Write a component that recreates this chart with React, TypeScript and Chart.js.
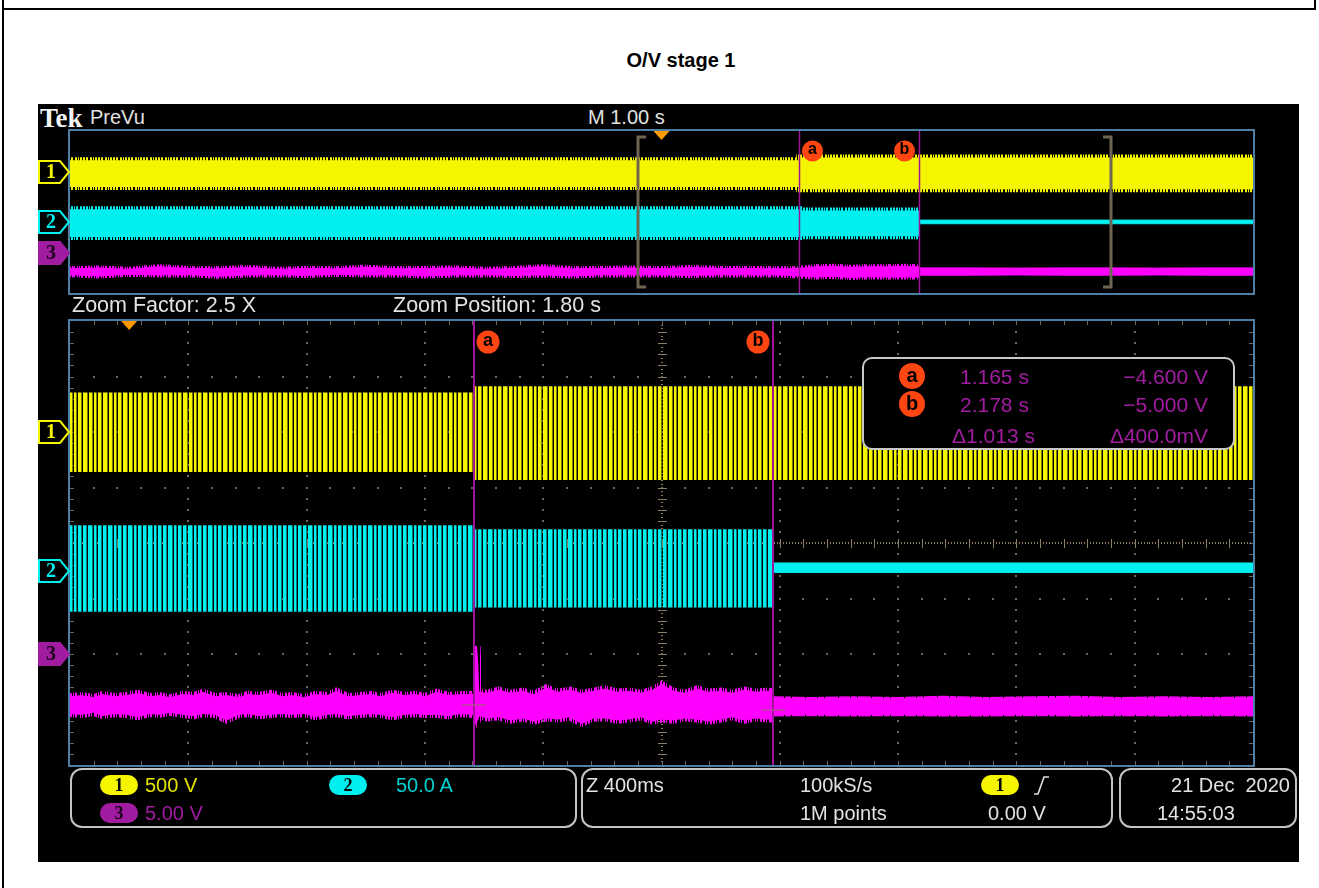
import React, { useEffect, useRef } from "react";
import { Chart, registerables } from "chart.js";

Chart.register(...registerables);

// ---------- time base ----------
const overviewWindow = [-5, 5]; // M 1.00 s/div, 10 divisions
const zoomWindow = [-0.2, 3.8]; // Z 400 ms/div, centred on 1.80 s
const triggerTime = 0;

// ---------- cursors (measured on channel 3) ----------
const cursorNames = ["a", "b"];
const cursorTimes = [1.165, 2.178];
const cursorLevels = [-4.6, -5.0];

// ---------- vertical set-up ----------
const channelNames = ["1", "2", "3"];
const channelPerDiv = [500, 50, 5];
const channelPosition = [2, -0.5, -2];
const channelScaleText = ["500 V", "50.0 A", "5.00 V"];

// ---------- channel 1 (V) ----------
const ch1ZoomTime = [-0.2, 1.165, 1.165, 3.8];
const ch1ZoomMax = [355, 355, 412, 412];
const ch1ZoomMin = [-360, -360, -432, -432];

const ch1OverTime = [-5, 1.165, 1.165, 5];
const ch1OverMax = [280, 280, 345, 345];
const ch1OverMin = [-385, -385, -440, -440];

// ---------- channel 2 (A) ----------
const ch2ZoomRunTime = [-0.2, 1.165, 1.165, 2.178];
const ch2ZoomRunMax = [41, 41, 37.5, 37.5];
const ch2ZoomRunMin = [-37, -37, -33, -33];
const ch2ZoomOffTime = [2.178, 3.8];
const ch2ZoomOffMax = [7, 7];
const ch2ZoomOffMin = [-1.5, -1.5];

const ch2OverRunTime = [-5, 1.165, 1.165, 2.178];
const ch2OverRunMax = [32, 32, 29, 29];
const ch2OverRunMin = [-37, -37, -35, -35];
const ch2OverOffTime = [2.178, 5];
const ch2OverOffMax = [5, 5];
const ch2OverOffMin = [-4, -4];

// ---------- channel 3 (V) ----------
const ch3ZoomRunTime = [
  -0.2, -0.16, -0.12, -0.09, -0.05, -0.01, 0.03, 0.07, 0.1, 0.14,
  0.18, 0.22, 0.25, 0.29, 0.33, 0.37, 0.4, 0.44, 0.48, 0.52,
  0.55, 0.59, 0.63, 0.67, 0.7, 0.74, 0.78, 0.82, 0.85, 0.89,
  0.93, 0.97, 1.0, 1.04, 1.08, 1.12, 1.16, 1.172, 1.178, 1.184,
  1.21, 1.25, 1.29, 1.33, 1.37, 1.41, 1.45, 1.49, 1.53, 1.57,
  1.61, 1.65, 1.69, 1.73, 1.77, 1.8, 1.84, 1.88, 1.92, 1.96,
  2.0, 2.04, 2.08, 2.12, 2.16, 2.178,
];
const ch3ZoomRunMax = [
  -3.8, -3.7, -3.9, -3.6, -3.8, -3.7, -3.5, -3.8, -3.7, -3.9,
  -3.6, -3.7, -3.4, -3.8, -3.7, -3.9, -3.6, -3.7, -3.5, -3.8,
  -3.7, -3.9, -3.6, -3.7, -3.3, -3.8, -3.7, -3.6, -3.8, -3.5,
  -3.7, -3.6, -3.8, -3.4, -3.7, -3.6, -3.6, -3.5, 0.7, -3.4,
  -3.5, -3.2, -3.5, -3.3, -3.6, -3.0, -3.4, -3.2, -3.5, -3.3,
  -3.1, -3.4, -3.3, -3.5, -3.2, -2.7, -3.3, -3.5, -3.1, -3.4,
  -3.3, -3.5, -3.2, -3.4, -3.3, -3.4,
];
const ch3ZoomRunMin = [
  -5.4, -5.5, -5.3, -5.6, -5.4, -5.5, -5.7, -5.4, -5.5, -5.3,
  -5.5, -5.6, -5.4, -5.5, -6.0, -5.5, -5.4, -5.6, -5.5, -5.4,
  -5.5, -5.4, -5.7, -5.5, -5.4, -5.6, -5.5, -5.4, -5.5, -5.7,
  -5.5, -5.4, -5.5, -5.5, -5.6, -5.4, -5.5, -5.7, -6.1, -5.6,
  -5.8, -5.7, -6.0, -5.8, -6.1, -5.8, -5.9, -5.7, -6.3, -5.8,
  -5.8, -6.0, -5.9, -5.7, -6.1, -5.9, -6.0, -5.8, -5.9, -6.1,
  -5.9, -5.7, -6.0, -5.8, -5.9, -5.9,
];
const ch3ZoomOffTime = [2.178, 2.3, 2.45, 2.6, 2.75, 2.9, 3.05, 3.2, 3.35, 3.5, 3.65, 3.8];
const ch3ZoomOffMax = [-3.95, -4.0, -3.95, -4.0, -3.9, -4.0, -3.95, -3.9, -4.0, -3.95, -4.0, -3.95];
const ch3ZoomOffMin = [-5.5, -5.45, -5.5, -5.45, -5.5, -5.5, -5.45, -5.5, -5.45, -5.5, -5.45, -5.5];

const ch3OverRunTime = [
  -5.0, -4.75, -4.5, -4.25, -4.0, -3.75, -3.5, -3.25, -3.0, -2.75,
  -2.5, -2.25, -2.0, -1.75, -1.5, -1.25, -1.0, -0.75, -0.5, -0.25,
  0.0, 0.25, 0.5, 0.75, 1.0, 1.165, 1.3, 1.45, 1.6, 1.75,
  1.9, 2.05, 2.178,
];
const ch3OverRunMax = [
  -3.9, -3.7, -4.0, -3.4, -3.8, -3.9, -3.6, -4.0, -3.8, -3.9,
  -3.5, -3.9, -3.8, -3.7, -4.0, -3.8, -3.4, -3.9, -3.8, -3.7,
  -3.9, -3.6, -3.8, -3.8, -3.9, -3.8, -3.4, -3.3, -3.5, -3.4,
  -3.4, -3.3, -3.4,
];
const ch3OverRunMin = [
  -5.6, -5.9, -5.5, -5.7, -5.6, -6.0, -5.7, -5.6, -5.8, -5.5,
  -5.7, -5.6, -5.9, -5.7, -5.6, -5.8, -5.7, -5.9, -5.6, -5.7,
  -5.7, -5.8, -5.6, -5.7, -5.7, -5.9, -6.2, -6.0, -6.3, -6.1,
  -6.2, -6.2, -6.2,
];
const ch3OverOffTime = [2.178, 2.6, 3.0, 3.4, 3.8, 4.2, 4.6, 5.0];
const ch3OverOffMax = [-3.8, -3.8, -3.85, -3.8, -3.8, -3.85, -3.8, -3.8];
const ch3OverOffMin = [-5.6, -5.6, -5.55, -5.6, -5.6, -5.55, -5.6, -5.6];

// ---------- palette ----------
const YELLOW = "#f5f500";
const CYAN = "#00f0f0";
const MAGENTA = "#ff00ff";
const PURPLE = "#a21ca2";
const BADGE = "#ff4612";
const TRIG = "#ff9a00";
const FRAME = "#4d7ea6";
const GRID = "#68685c";
const AXIS = "#8a7c5e";
const BRACKET = "#6e6652";
const LABEL = "#e2e2e2";
const SANS = "'Liberation Sans', Arial, sans-serif";
const SERIF = "'Liberation Serif', 'DejaVu Serif', serif";

const chColor = [YELLOW, CYAN, PURPLE];

function channelAxes() {
  const out: Record<string, any> = {};
  channelNames.forEach((n, i) => {
    out[`ch${n}`] = {
      type: "linear",
      axis: "y",
      position: "left",
      display: false,
      min: (-4 - channelPosition[i]) * channelPerDiv[i],
      max: (4 - channelPosition[i]) * channelPerDiv[i],
    };
  });
  return out;
}

function band(times: number[], maxs: number[], mins: number[], axis: string, fill: any, line: any, width: number) {
  return [
    {
      data: times.map((t, i) => ({ x: t, y: maxs[i] })),
      yAxisID: axis,
      borderColor: line,
      borderWidth: width,
      backgroundColor: fill,
      fill: "+1",
      pointRadius: 0,
      tension: 0,
    },
    {
      data: times.map((t, i) => ({ x: t, y: mins[i] })),
      yAxisID: axis,
      borderColor: line,
      borderWidth: width,
      fill: false,
      pointRadius: 0,
      tension: 0,
    },
  ];
}

// vertical-stripe texture: '#' full colour, '+' dimmed, '.' empty
function stripePattern(ctx: CanvasRenderingContext2D, spec: string, on: string, dim: string) {
  const c = document.createElement("canvas");
  c.width = spec.length;
  c.height = 2;
  const g = c.getContext("2d")!;
  [...spec].forEach((ch, i) => {
    if (ch === "#") {
      g.fillStyle = on;
      g.fillRect(i, 0, 1, 2);
    } else if (ch === "+") {
      g.fillStyle = dim;
      g.fillRect(i, 0, 1, 2);
    }
  });
  return ctx.createPattern(c, "repeat")!;
}

function drawMarker(ctx: CanvasRenderingContext2D, x1: number, y: number, i: number) {
  const h = 11;
  const x0 = 1;
  const filled = i === 2;
  ctx.beginPath();
  ctx.moveTo(x0, y - h);
  ctx.lineTo(x1 - 10, y - h);
  ctx.lineTo(x1 - 1, y);
  ctx.lineTo(x1 - 10, y + h);
  ctx.lineTo(x0, y + h);
  ctx.closePath();
  ctx.fillStyle = filled ? chColor[i] : "#000";
  ctx.fill();
  ctx.lineWidth = 2;
  ctx.strokeStyle = chColor[i];
  ctx.stroke();
  ctx.fillStyle = filled ? "#1a001a" : chColor[i];
  ctx.font = `bold 20px ${SERIF}`;
  ctx.textAlign = "center";
  ctx.textBaseline = "middle";
  ctx.fillText(channelNames[i], x0 + 12, y + 1);
}

function drawBadge(ctx: CanvasRenderingContext2D, cx: number, cy: number, r: number, name: string) {
  ctx.beginPath();
  ctx.arc(cx, cy, r, 0, Math.PI * 2);
  ctx.fillStyle = BADGE;
  ctx.fill();
  ctx.fillStyle = "#000";
  ctx.font = `bold ${Math.round(r * 1.55)}px ${SANS}`;
  ctx.textAlign = "center";
  ctx.textBaseline = "middle";
  ctx.fillText(name, cx, cy - 1);
}

function drawTrigger(ctx: CanvasRenderingContext2D, x: number, top: number) {
  ctx.beginPath();
  ctx.moveTo(x - 8, top);
  ctx.lineTo(x + 8, top);
  ctx.lineTo(x, top + 9);
  ctx.closePath();
  ctx.fillStyle = TRIG;
  ctx.fill();
}

function drawFrame(ctx: CanvasRenderingContext2D, a: any) {
  ctx.strokeStyle = FRAME;
  ctx.lineWidth = 2;
  ctx.strokeRect(a.left - 1, a.top - 1, a.right - a.left + 2, a.bottom - a.top + 2);
}

const zoomDecor = {
  id: "zoomDecor",
  beforeDatasetsDraw(chart: any) {
    const { ctx, chartArea: a, scales } = chart;
    const x = scales.x;
    const d = scales.div;
    const [t0, t1] = zoomWindow;
    const xAt = (f: number) => Math.round(x.getPixelForValue(t0 + ((t1 - t0) * f) / 10));
    const yAt = (f: number) => Math.round(d.getPixelForValue(f));
    ctx.save();
    ctx.fillStyle = GRID;
    for (let i = 1; i < 10; i++) {
      if (i === 5) continue;
      const px = xAt(i);
      for (let k = 1; k < 40; k++) ctx.fillRect(px - 1, yAt(-4 + k * 0.2) - 1, 2, 2);
    }
    for (let j = 1; j < 8; j++) {
      if (j === 4) continue;
      const py = yAt(-4 + j);
      for (let k = 1; k < 50; k++) ctx.fillRect(xAt(k * 0.2) - 1, py - 1, 2, 2);
    }
    for (let k = 1; k < 50; k++) {
      const px = xAt(k * 0.2);
      ctx.fillRect(px, a.top, 1, 4);
      ctx.fillRect(px, a.bottom - 4, 1, 4);
    }
    for (let k = 1; k < 40; k++) {
      const py = yAt(-4 + k * 0.2);
      ctx.fillRect(a.left, py, 4, 1);
      ctx.fillRect(a.right - 4, py, 4, 1);
    }
    // centre graticule with minor ticks
    ctx.fillStyle = AXIS;
    const cx = xAt(5);
    const cy = yAt(0);
    for (let k = 1; k < 120; k++) ctx.fillRect(cx - 1, yAt(-4 + k / 15), 2, 1);
    for (let k = 1; k < 40; k++) ctx.fillRect(cx - 4, yAt(-4 + k * 0.2), 9, 1);
    for (let k = 1; k < 400; k++) ctx.fillRect(xAt(k / 40), cy - 1, 1, 2);
    for (let k = 1; k < 50; k++) ctx.fillRect(xAt(k * 0.2), cy - 4, 1, 9);
    ctx.restore();
  },
  afterDatasetsDraw(chart: any) {
    const { ctx, chartArea: a, scales } = chart;
    const x = scales.x;
    ctx.save();
    cursorTimes.forEach((t, i) => {
      const px = Math.round(x.getPixelForValue(t));
      ctx.strokeStyle = "#a0149c";
      ctx.lineWidth = 2;
      ctx.beginPath();
      ctx.moveTo(px, a.top);
      ctx.lineTo(px, a.bottom);
      ctx.stroke();
      const py = Math.round(scales.ch3.getPixelForValue(cursorLevels[i]));
      ctx.strokeStyle = "#b8489a";
      ctx.lineWidth = 1.5;
      ctx.beginPath();
      ctx.moveTo(px - 12, py);
      ctx.lineTo(px + 12, py);
      ctx.stroke();
      drawBadge(ctx, px + (i === 0 ? 14 : -15), a.top + 21, 11.5, cursorNames[i]);
    });
    drawFrame(ctx, a);
    drawTrigger(ctx, x.getPixelForValue(triggerTime), a.top);
    channelNames.forEach((n, i) => {
      drawMarker(ctx, a.left, Math.round(scales[`ch${n}`].getPixelForValue(0)), i);
    });
    ctx.restore();
  },
};

const overviewDecor = {
  id: "overviewDecor",
  afterDatasetsDraw(chart: any) {
    const { ctx, chartArea: a, scales } = chart;
    const x = scales.x;
    ctx.save();
    // zoom window brackets
    const bl = Math.round(x.getPixelForValue(zoomWindow[0]));
    const br = Math.round(x.getPixelForValue(zoomWindow[1]));
    const bt = a.top + 6;
    const bb = a.bottom - 6;
    ctx.strokeStyle = BRACKET;
    ctx.lineWidth = 3;
    ctx.beginPath();
    ctx.moveTo(bl + 8, bt);
    ctx.lineTo(bl, bt);
    ctx.lineTo(bl, bb);
    ctx.lineTo(bl + 8, bb);
    ctx.moveTo(br - 8, bt);
    ctx.lineTo(br, bt);
    ctx.lineTo(br, bb);
    ctx.lineTo(br - 8, bb);
    ctx.stroke();
    cursorTimes.forEach((t, i) => {
      const px = Math.round(x.getPixelForValue(t)) + 0.5;
      ctx.strokeStyle = "#a0149c";
      ctx.lineWidth = 1.5;
      ctx.beginPath();
      ctx.moveTo(px, a.top);
      ctx.lineTo(px, a.bottom);
      ctx.stroke();
      drawBadge(ctx, px + (i === 0 ? 13 : -15), a.top + 20, 10.5, cursorNames[i]);
    });
    drawFrame(ctx, a);
    drawTrigger(ctx, x.getPixelForValue(triggerTime), a.top);
    channelNames.forEach((n, i) => {
      drawMarker(ctx, a.left, Math.round(scales[`ch${n}`].getPixelForValue(0)), i);
    });
    ctx.restore();
  },
};

function baseOptions(win: number[], padBottom: number) {
  return {
    responsive: false,
    animation: false as const,
    events: [] as any[],
    layout: { padding: { left: 32, right: 46, top: 6, bottom: padBottom } },
    plugins: { legend: { display: false }, tooltip: { enabled: false }, title: { display: false } },
    scales: {
      x: { type: "linear", axis: "x", position: "bottom", display: false, min: win[0], max: win[1] },
      div: { type: "linear", axis: "y", position: "left", display: false, min: -4, max: 4 },
      ...channelAxes(),
    },
  };
}

type TP = {
  x: number;
  y: number;
  size?: number;
  color?: string;
  right?: boolean;
  bold?: boolean;
  family?: string;
  children: React.ReactNode;
};

function Txt({ x, y, size = 20, color = LABEL, right = false, bold = false, family = SANS, children }: TP) {
  const style: React.CSSProperties = {
    position: "absolute",
    top: y - size * 0.59,
    fontSize: size,
    lineHeight: `${size * 1.2}px`,
    color,
    whiteSpace: "pre",
    fontFamily: family,
    fontWeight: bold ? 700 : 400,
  };
  if (right) style.right = 1319 - x;
  else style.left = x;
  return <div style={style}>{children}</div>;
}

function Pill({ cx, cy, color, label, dark = "#000" }: { cx: number; cy: number; color: string; label: string; dark?: string }) {
  return (
    <div
      style={{
        position: "absolute",
        left: cx - 19,
        top: cy - 10,
        width: 38,
        height: 20,
        borderRadius: 10,
        background: color,
        color: dark,
        fontFamily: SERIF,
        fontWeight: 700,
        fontSize: 18,
        lineHeight: "20px",
        textAlign: "center",
      }}
    >
      {label}
    </div>
  );
}

function Panel({ left, top, width, height }: { left: number; top: number; width: number; height: number }) {
  return (
    <div
      style={{
        position: "absolute",
        left,
        top,
        width: width - 4,
        height: height - 4,
        border: "2px solid #c4c4c4",
        borderRadius: 12,
      }}
    />
  );
}

function fmtLevel(v: number) {
  return `${v < 0 ? "\u2212" : ""}${Math.abs(v).toFixed(3)} V`;
}

export default function App() {
  const overRef = useRef<HTMLCanvasElement>(null);
  const zoomRef = useRef<HTMLCanvasElement>(null);

  useEffect(() => {
    const oc = overRef.current!;
    const zc = zoomRef.current!;
    const octx = oc.getContext("2d")!;
    const zctx = zc.getContext("2d")!;

    // oscillating traces in the zoom window
    const yellowStripes = stripePattern(zctx, "###+.####+.###+.##+.", YELLOW, "#7c7c00");
    const cyanStripes = stripePattern(zctx, "###+.###+.####+.##+.", CYAN, "#007a7a");
    // noisy edges
    const magentaFuzzZoom = stripePattern(zctx, "##.#..###.#.##...#.#..##.", MAGENTA, "#a000a0");
    const magentaQuietZoom = stripePattern(zctx, "########.###########.######.#####", MAGENTA, "#a000a0");
    const magentaFuzzOver = stripePattern(octx, "#.##.#..#.###..#.#.##..#", MAGENTA, "#a000a0");
    const yellowComb = stripePattern(octx, "##.##..##.#.##.", YELLOW, "#707000");
    const cyanComb = stripePattern(octx, "##.##.#.##..##.", CYAN, "#007070");

    const overview = new Chart(oc, {
      type: "line",
      data: {
        datasets: [
          ...band(ch1OverTime, ch1OverMax, ch1OverMin, "ch1", YELLOW, yellowComb, 6),
          ...band(ch2OverRunTime, ch2OverRunMax, ch2OverRunMin, "ch2", CYAN, cyanComb, 6),
          ...band(ch2OverOffTime, ch2OverOffMax, ch2OverOffMin, "ch2", CYAN, CYAN, 1),
          ...band(ch3OverRunTime, ch3OverRunMax, ch3OverRunMin, "ch3", MAGENTA, magentaFuzzOver, 4),
          ...band(ch3OverOffTime, ch3OverOffMax, ch3OverOffMin, "ch3", MAGENTA, MAGENTA, 1),
        ] as any,
      },
      options: baseOptions(overviewWindow, 7) as any,
      plugins: [overviewDecor],
    });

    const zoom = new Chart(zc, {
      type: "line",
      data: {
        datasets: [
          ...band(ch1ZoomTime, ch1ZoomMax, ch1ZoomMin, "ch1", yellowStripes, "transparent", 0),
          ...band(ch2ZoomRunTime, ch2ZoomRunMax, ch2ZoomRunMin, "ch2", cyanStripes, "transparent", 0),
          ...band(ch2ZoomOffTime, ch2ZoomOffMax, ch2ZoomOffMin, "ch2", CYAN, CYAN, 1),
          ...band(ch3ZoomRunTime, ch3ZoomRunMax, ch3ZoomRunMin, "ch3", MAGENTA, magentaFuzzZoom, 6),
          ...band(ch3ZoomOffTime, ch3ZoomOffMax, ch3ZoomOffMin, "ch3", MAGENTA, magentaQuietZoom, 3),
        ] as any,
      },
      options: baseOptions(zoomWindow, 6) as any,
      plugins: [zoomDecor],
    });

    return () => {
      overview.destroy();
      zoom.destroy();
    };
  }, []);

  const dt = (cursorTimes[1] - cursorTimes[0]).toFixed(3);
  const dv = (Math.abs(cursorLevels[1] - cursorLevels[0]) * 1000).toFixed(1);

  return (
    <div style={{ position: "absolute", left: 0, top: 0, width: 1319, height: 888, background: "#fff", overflow: "hidden" }}>
      {/* page frame */}
      <div style={{ position: "absolute", left: 2, top: 0, width: 2, height: 888, background: "#000" }} />
      <div style={{ position: "absolute", left: 2, top: 8, width: 1314, height: 2, background: "#000" }} />
      <div style={{ position: "absolute", left: 1314, top: 0, width: 2, height: 10, background: "#000" }} />

      <div
        style={{
          position: "absolute",
          left: 681,
          top: 48,
          transform: "translateX(-50%)",
          fontFamily: SANS,
          fontWeight: 700,
          fontSize: 20,
          lineHeight: "24px",
          whiteSpace: "pre",
          color: "#000",
        }}
      >
        O/V stage 1
      </div>

      {/* instrument screen */}
      <div style={{ position: "absolute", left: 38, top: 104, width: 1261, height: 758, background: "#000" }} />

      <Txt x={40} y={118} size={27} bold family={SERIF} color="#f4f4f4">
        Tek
      </Txt>
      <Txt x={90} y={117} size={20}>
        PreVu
      </Txt>
      <Txt x={588} y={117} size={20}>
        M 1.00 s
      </Txt>

      <canvas ref={overRef} width={1261} height={175} style={{ position: "absolute", left: 38, top: 125 }} />

      <Txt x={72} y={306} size={21.5}>
        Zoom Factor: 2.5 X
      </Txt>
      <Txt x={393} y={306} size={21.5}>
        Zoom Position: 1.80 s
      </Txt>

      <canvas ref={zoomRef} width={1261} height={456} style={{ position: "absolute", left: 38, top: 315 }} />

      {/* cursor readout */}
      <div
        style={{
          position: "absolute",
          left: 862,
          top: 357,
          width: 369,
          height: 89,
          border: "2px solid #c8c8c8",
          borderRadius: 10,
          background: "#000",
        }}
      />
      {cursorNames.map((n, i) => (
        <div
          key={n}
          style={{
            position: "absolute",
            left: 899,
            top: 363 + i * 28,
            width: 26,
            height: 26,
            borderRadius: 13,
            background: BADGE,
            color: "#000",
            fontFamily: SANS,
            fontWeight: 700,
            fontSize: 20,
            lineHeight: "24px",
            textAlign: "center",
          }}
        >
          {n}
        </div>
      ))}
      {cursorTimes.map((t, i) => (
        <Txt key={`t${i}`} x={960} y={376 + i * 28} size={21} color={PURPLE}>
          {`${t.toFixed(3)} s`}
        </Txt>
      ))}
      {cursorLevels.map((v, i) => (
        <Txt key={`v${i}`} x={1208} y={376 + i * 28} size={21} color={PURPLE} right>
          {fmtLevel(v)}
        </Txt>
      ))}
      <Txt x={952} y={435} size={21} color={PURPLE}>
        {`\u0394${dt} s`}
      </Txt>
      <Txt x={1208} y={435} size={21} color={PURPLE} right>
        {`\u0394${dv}mV`}
      </Txt>

      {/* status bar */}
      <Panel left={70} top={768} width={507} height={60} />
      <Panel left={581} top={768} width={532} height={60} />
      <Panel left={1119} top={768} width={178} height={60} />

      <Pill cx={119} cy={785} color={YELLOW} label={channelNames[0]} />
      <Txt x={145} y={785} color="#e2e200">
        {channelScaleText[0]}
      </Txt>
      <Pill cx={348} cy={785} color={CYAN} label={channelNames[1]} />
      <Txt x={396} y={785} color="#00d0d0">
        {channelScaleText[1]}
      </Txt>
      <Pill cx={119} cy={813} color={PURPLE} label={channelNames[2]} dark="#1a001a" />
      <Txt x={145} y={813} color={PURPLE}>
        {channelScaleText[2]}
      </Txt>

      <Txt x={586} y={785}>Z 400ms</Txt>
      <Txt x={800} y={785}>100kS/s</Txt>
      <Txt x={800} y={813}>1M points</Txt>
      <Pill cx={1000} cy={785} color={YELLOW} label={channelNames[0]} />
      <svg style={{ position: "absolute", left: 1030, top: 774 }} width={24} height={24}>
        <polyline points="4,20 8,20 14,3 19,3" fill="none" stroke={LABEL} strokeWidth={1.6} />
      </svg>
      <Txt x={988} y={813}>0.00 V</Txt>

      <Txt x={1290} y={785} right>
        21 Dec  2020
      </Txt>
      <Txt x={1157} y={813}>14:55:03</Txt>
    </div>
  );
}
